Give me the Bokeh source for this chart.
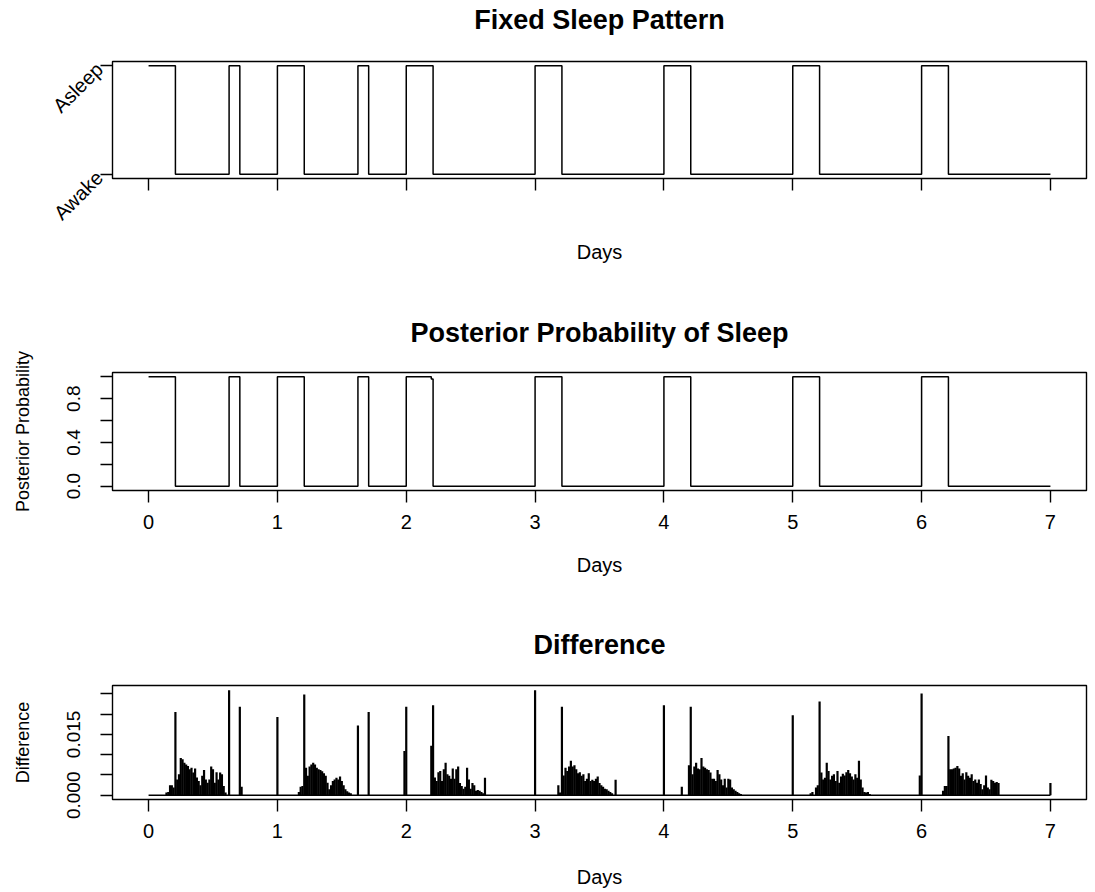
import math
from bokeh.plotting import figure
from bokeh.layouts import column
from bokeh.models import FixedTicker, Range1d, Title
from bokeh.embed import file_html
from bokeh.resources import INLINE

# ---------------- data ----------------
STEPS_PER_DAY = 72  # 20-minute sampling grid

day_ticks = [0, 1, 2, 3, 4, 5, 6, 7]

# Fixed sleep pattern: state changes (grid step) and state after the change (1 = asleep)
sleep_step = [0, 15, 45, 51, 72, 87, 117, 123, 144, 159, 216, 231, 288, 303, 360, 375, 432, 447, 504]
sleep_state = [1, 0, 1, 0, 1, 0, 1, 0, 1, 0, 1, 0, 1, 0, 1, 0, 1, 0, 0]

# Posterior probability of sleep (change points and level)
post_step = [0, 15, 45, 51, 72, 87, 117, 123, 144, 158, 159, 216, 231, 288, 303, 360, 375, 432, 447, 504]
post_value = [1, 0, 1, 0, 1, 0, 1, 0, 1, 0.98, 0, 1, 0, 1, 0, 1, 0, 1, 0, 0]

# Difference, clusters after each main sleep (start step, values)
diff_day0_start = 10
diff_day0 = [0.0007, 0.0008, 0.0025, 0.0025, 0.0019, 0.0205, 0.0039, 0.0052, 0.0092, 0.0089,
             0.0080, 0.0076, 0.0072, 0.0064, 0.0068, 0.0056, 0.0066, 0.0044, 0.0035, 0.0025,
             0.0048, 0.0062, 0.0039, 0.0031, 0.0039, 0.0071, 0.0064, 0.0031, 0.0057, 0.0039,
             0.0056, 0.0052, 0.0023, 0.0007, 0.0, 0.0259, 0, 0, 0, 0, 0, 0.0218, 0.0021]
diff_day1_start = 84
diff_day1 = [0.0008, 0.0021, 0.0023, 0.0248, 0.0068, 0.0048, 0.0071, 0.0076, 0.0080, 0.0076,
             0.0068, 0.0064, 0.0062, 0.0059, 0.0054, 0.0048, 0.0031, 0.0015, 0.0025, 0.0035,
             0.0039, 0.0043, 0.0039, 0.0046, 0.0035, 0.0025, 0.0015, 0.0010, 0.0007, 0.0005]
diff_day2_start = 158
diff_day2 = [0.0122, 0.0222, 0.0044, 0.0035, 0.0057, 0.0060, 0.0035, 0.0064, 0.0080, 0.0052,
             0.0048, 0.0041, 0.0066, 0.0041, 0.0064, 0.0071, 0.0030, 0.0023, 0.0016, 0.0021,
             0.0068, 0.0039, 0.0016, 0.0030, 0.0025, 0.0011, 0.0013, 0.0011, 0.0008, 0.0005,
             0.0043]
diff_day3_start = 229
diff_day3 = [0.0025, 0.0007, 0.0218, 0.0049, 0.0068, 0.0060, 0.0071, 0.0085, 0.0071, 0.0074,
             0.0064, 0.0054, 0.0057, 0.0048, 0.0052, 0.0035, 0.0041, 0.0054, 0.0035, 0.0038,
             0.0035, 0.0041, 0.0046, 0.0030, 0.0025, 0.0021, 0.0016, 0.0015, 0.0011, 0.0008,
             0.0005, 0.0, 0.0038]
diff_day4_start = 298
diff_day4 = [0.0021, 0, 0, 0, 0.0074, 0.0218, 0.0052, 0.0071, 0.0080, 0.0066,
             0.0064, 0.0092, 0.0071, 0.0068, 0.0064, 0.0062, 0.0056, 0.0041, 0.0041, 0.0035,
             0.0062, 0.0052, 0.0039, 0.0025, 0.0041, 0.0019, 0.0041, 0.0039, 0.0019, 0.0015,
             0.0011, 0.0008, 0.0005, 0.0003]
diff_day5_start = 370
diff_day5 = [0.0005, 0.0008, 0, 0.0019, 0.0025, 0.0231, 0.0056, 0.0039, 0.0043, 0.0080,
             0.0060, 0.0039, 0.0048, 0.0052, 0.0035, 0.0060, 0.0031, 0.0046, 0.0053, 0.0049,
             0.0057, 0.0062, 0.0054, 0.0046, 0.0039, 0.0052, 0.0043, 0.0085, 0.0039, 0.0019,
             0.0008, 0.0007, 0.0008, 0.0003]
diff_day6_start = 444
diff_day6 = [0.0011, 0.0023, 0.0023, 0.0146, 0.0064, 0.0064, 0.0066, 0.0068, 0.0072, 0.0066,
             0.0048, 0.0054, 0.0039, 0.0057, 0.0048, 0.0043, 0.0052, 0.0035, 0.0039, 0.0031,
             0.0039, 0.0028, 0.0015, 0.0025, 0.0049, 0.0019, 0.0015, 0.0038, 0.0035, 0.0031,
             0.0033, 0.0030]
# isolated spikes at sleep transitions
spike_step = [72, 117, 123, 143, 144, 216, 288, 360, 431, 432, 504]
spike_value = [0.0193, 0.0172, 0.0205, 0.0109, 0.0218, 0.0259, 0.0222, 0.0197, 0.0049, 0.0251, 0.0030]

# ---------------- assemble ----------------
def to_days(steps):
    return [s / STEPS_PER_DAY for s in steps]

diff_steps, diff_vals = [], []
for start, vals in [(diff_day0_start, diff_day0), (diff_day1_start, diff_day1),
                    (diff_day2_start, diff_day2), (diff_day3_start, diff_day3),
                    (diff_day4_start, diff_day4), (diff_day5_start, diff_day5),
                    (diff_day6_start, diff_day6)]:
    for i, v in enumerate(vals):
        diff_steps.append(start + i)
        diff_vals.append(v)
diff_steps += spike_step
diff_vals += spike_value
diff_days = to_days(diff_steps)

FONT = "Liberation Sans"
W = 1090
FRAME_W = 974
X_RANGE = (-0.28, 7.28)


def make_fig(title, height, bottom, y_range, title_standoff, gap_standoff):
    p = figure(width=W, height=height, x_range=Range1d(*X_RANGE), y_range=Range1d(*y_range),
               output_backend="svg", toolbar_location=None, title=None,
               min_border_left=112, min_border_right=W - 112 - FRAME_W,
               min_border_top=0, min_border_bottom=bottom)
    # spacer between frame and title (nearest to the frame), then the title
    p.add_layout(Title(text=" ", text_font_size="1px", standoff=gap_standoff), "above")
    p.add_layout(Title(text=title, align="center", text_font=FONT, text_font_size="27px",
                       text_font_style="bold", text_color="black",
                       standoff=title_standoff), "above")
    p.xgrid.visible = False
    p.ygrid.visible = False
    p.outline_line_color = "black"
    p.outline_line_width = 1.4
    p.outline_line_alpha = 1.0
    p.background_fill_color = "white"
    p.border_fill_color = "white"
    for ax in (p.xaxis[0], p.yaxis[0]):
        ax.axis_line_color = None
        ax.minor_tick_line_color = None
        ax.major_tick_out = 12
        ax.major_tick_in = 0
        ax.major_tick_line_width = 1.4
        ax.major_tick_line_color = "black"
        ax.major_label_text_font = FONT
        ax.major_label_text_font_size = "19px"
        ax.major_label_text_color = "black"
        ax.axis_label_text_font = FONT
        ax.axis_label_text_font_size = "18px"
        ax.axis_label_text_font_style = "normal"
        ax.axis_label_text_color = "black"
    p.xaxis.ticker = FixedTicker(ticks=day_ticks)
    p.xaxis.axis_label = "Days"
    p.xaxis.axis_label_text_font_size = "20px"
    p.xaxis.major_label_text_font_size = "20px"
    p.xaxis.major_label_standoff = 12
    p.xaxis.axis_label_standoff = 22
    return p


# Panel 1
p1 = make_fig("Fixed Sleep Pattern", 308, 130, (-0.04, 1.04), 5, 21)
p1.step(to_days(sleep_step), sleep_state, mode="after", line_color="black", line_width=1.5)
p1.yaxis.ticker = FixedTicker(ticks=[0, 1])
p1.yaxis.major_label_overrides = {0: "Awake", 1: "Asleep"}
p1.yaxis.major_label_orientation = math.pi / 4
p1.yaxis.major_label_standoff = 1
p1.yaxis.major_label_text_font_size = "20px"
p1.xaxis.major_label_overrides = {t: "" for t in day_ticks}
p1.xaxis.axis_label_standoff = 50

# Panel 2
post_ticks = [0, 0.2, 0.4, 0.6, 0.8, 1.0]
p2 = make_fig("Posterior Probability of Sleep", 312, 130, (-0.04, 1.04), 15, 14)
p2.step(to_days(post_step), post_value, mode="after", line_color="black", line_width=1.5)
p2.yaxis.ticker = FixedTicker(ticks=post_ticks)
p2.yaxis.major_label_overrides = {0: "0.0", 0.2: "", 0.4: "0.4", 0.6: "", 0.8: "0.8", 1.0: ""}
p2.yaxis.major_label_orientation = "vertical"
p2.yaxis.major_label_standoff = 20
p2.yaxis.axis_label = "Posterior Probability"
p2.yaxis.axis_label_standoff = 32

# Panel 3
diff_ticks = [0, 0.005, 0.01, 0.015, 0.02, 0.025]
p3 = make_fig("Difference", 270, 90, (-0.00104, 0.02704), 15, 15)
p3.segment(x0=[min(diff_days + to_days(sleep_step))], y0=[0],
           x1=[max(diff_days + to_days(sleep_step))], y1=[0], line_color="black", line_width=1.4)
p3.segment(x0=diff_days, y0=[0] * len(diff_days), x1=diff_days, y1=diff_vals,
           line_color="black", line_width=2.2)
p3.yaxis.ticker = FixedTicker(ticks=diff_ticks)
p3.yaxis.major_label_overrides = {0: "0.000", 0.005: "", 0.01: "", 0.015: "0.015", 0.02: "", 0.025: ""}
p3.yaxis.major_label_orientation = "vertical"
p3.yaxis.major_label_standoff = 20
p3.yaxis.axis_label = "Difference"
p3.yaxis.axis_label_standoff = 32
p3.xaxis.axis_label_standoff = 25

layout = column(p1, p2, p3, spacing=0)
open("out.html", "w").write(file_html(layout, INLINE))
